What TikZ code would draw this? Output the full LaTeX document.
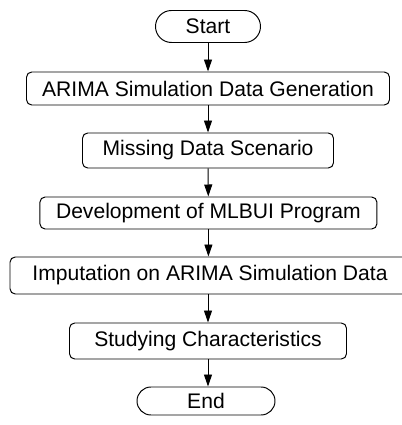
\documentclass[tikz,border=0pt]{standalone}
\usepackage{fontspec}
\setmainfont{Liberation Sans}
\usepackage{tikz}
\usetikzlibrary{arrows.meta,shapes}

\begin{document}
\begin{tikzpicture}[line width=0.7pt,
  >={Triangle[length=0.3cm,width=0.2cm]},
  box/.style={draw,rounded corners=0.13cm,minimum height=0.85cm,inner sep=0pt,font=\fontsize{15}{17}\selectfont},
  term/.style={box,rounded corners=0.4cm,minimum height=0.8cm}]
\useasboundingbox(0,0)rectangle(10.05,10.625);
% start / end caps
\node[term,minimum width=2.625cm](start)at(5.2,9.9625){Start};
\node[term,minimum width=3.45cm,minimum height=0.7cm,rounded corners=0.35cm](stop)at(5.15,0.6){End};
% process boxes
\node[box,minimum width=9.075cm,minimum height=0.825cm](gen)at(5.2,8.4125){ARIMA Simulation Data Generation};
\node[box,minimum width=6.275cm,minimum height=0.875cm](miss)at(5.2,6.8625){Missing Data Scenario};
\node[box,minimum width=8.425cm,minimum height=0.8cm](dev)at(5.21,5.3){Development of MLBUI Program};
\node[box,minimum width=10cm,minimum height=0.925cm](imp)at(5.25,3.7375){Imputation on ARIMA Simulation Data};
\node[box,minimum width=6.925cm,minimum height=0.9cm](study)at(5.2,2.1){Studying Characteristics};
%\draw[->](start)--(stop);
\draw[->](start)--(gen);
\draw[->](gen)--(miss);
\draw[->](miss)--(dev);
\draw[->](dev)--(imp.north-|dev.south);
\draw[->](imp.south-|study.north)--(study);
\draw[->](study.south)--(study.south|-stop.north);
\end{tikzpicture}
\end{document}
